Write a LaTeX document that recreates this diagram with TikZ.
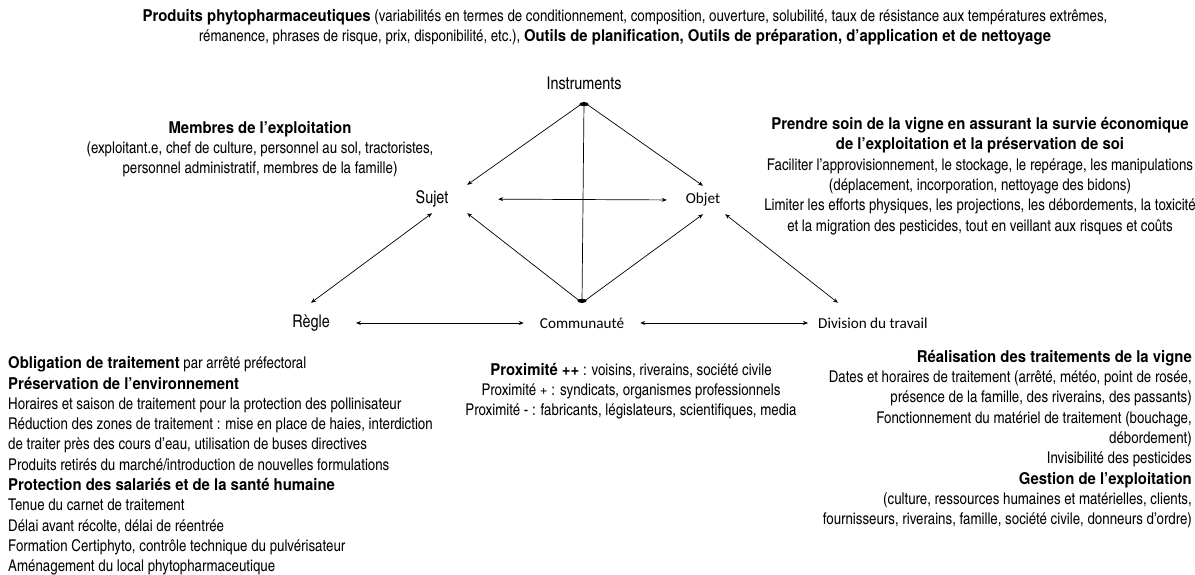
\documentclass[tikz,border=0pt]{standalone}
\usepackage{fontspec}
\setmainfont{texgyreheroscn}[Extension=.otf,UprightFont=*-regular,BoldFont=texgyreheros-bold,BoldFeatures={FakeStretch=0.92},ItalicFont=*-italic,BoldItalicFont=*-bolditalic]
\newfontfamily\calfont{Carlito}
\usetikzlibrary{arrows.meta}

\begin{document}
\begin{tikzpicture}
[x=1pt,y=-1pt,
every node/.style={inner sep=0pt},
lbl/.style={font=\fontsize{17.5}{19}\selectfont},
clbl/.style={font=\calfont\fontsize{15.2}{17}\selectfont},
txt/.style={font=\fontsize{16.2}{20.3}\selectfont},
tip/.style={-{Stealth[length=5pt,width=4pt]},line width=0.7pt},
dtip/.style={{Stealth[length=5pt,width=4pt]}-{Stealth[length=5pt,width=4pt]},line width=0.7pt}]
\useasboundingbox (0,0) rectangle (1195,575);
\node[txt,align=center] (prod) at (625,27) {\textbf{Produits phytopharmaceutiques} (variabilités en termes de conditionnement, composition, ouverture, solubilité, taux de résistance aux températures extrêmes,\\rémanence, phrases de risque, prix, disponibilité, etc.), \textbf{Outils de planification, Outils de préparation, d’application et de nettoyage}};
\node[lbl,minimum height=38pt] (instr) at (584,83) {Instruments};
\node[lbl,minimum width=70pt,minimum height=28pt] (sujet) at (432,199) {Sujet};
\node[clbl,minimum width=44pt,minimum height=28pt] (objet) at (703,200) {Objet};
\node[lbl,minimum height=40pt,inner xsep=26pt] (regle) at (311,323) {Règle};
\node[clbl,minimum height=40pt,inner xsep=16pt] (comm) at (582,323) {Communauté};
\node[clbl,minimum height=40pt,inner xsep=10pt,anchor=west] (divt) at (808,323) {Division du travail};
\node[txt,align=center] (membres) at (260,149) {\textbf{Membres de l’exploitation}\\(exploitant.e, chef de culture, personnel au sol, tractoristes,\\personnel administratif, membres de la famille)};
\node[txt,align=center] (soin) at (980,176) {\textbf{Prendre soin de la vigne en assurant la survie économique}\\\textbf{de l’exploitation et la préservation de soi}\\Faciliter l’approvisionnement, le stockage, le repérage, les manipulations\\(déplacement, incorporation, nettoyage des bidons)\\Limiter les efforts physiques, les projections, les débordements, la toxicité\\et la migration des pesticides, tout en veillant aux risques et coûts};
\node[txt,align=center] (proxi) at (631,391) {\textbf{Proximité ++} : voisins, riverains, société civile\\Proximité + : syndicats, organismes professionnels\\Proximité - : fabricants, législateurs, scientifiques, media};
\node[txt,align=left,anchor=west] (oblig) at (8,466) {\textbf{Obligation de traitement} par arrêté préfectoral\\\textbf{Préservation de l’environnement}\\Horaires et saison de traitement pour la protection des pollinisateur\\Réduction des zones de traitement : mise en place de haies, interdiction\\de traiter près des cours d’eau, utilisation de buses directives\\Produits retirés du marché/introduction de nouvelles formulations\\\textbf{Protection des salariés et de la santé humaine}\\Tenue du carnet de traitement\\Délai avant récolte, délai de réentrée\\Formation Certiphyto, contrôle technique du pulvérisateur\\Aménagement du local phytopharmaceutique};
\node[txt,align=right,anchor=east] (real) at (1192,439) {\textbf{Réalisation des traitements de la vigne}\\Dates et horaires de traitement (arrêté, météo, point de rosée,\\présence de la famille, des riverains, des passants)\\Fonctionnement du matériel de traitement (bouchage,\\débordement)\\Invisibilité des pesticides\\\textbf{Gestion de l’exploitation}\\(culture, ressources humaines et matérielles, clients,\\fournisseurs, riverains, famille, société civile, donneurs d’ordre)};
\draw[line width=0.7pt,{Ellipse[length=4pt,width=9pt]}-{Ellipse[length=4pt,width=9pt]}] (instr.south) -- (comm.north);
\foreach \from/\to in {instr.south/sujet.north east,instr.south/objet.north,comm.north/sujet.south east,comm.north/objet.south}
\draw[tip] (\from) -- (\to);
\foreach \from/\to in {regle.east/comm.west,comm.east/divt.west,regle.north/sujet.south,objet.south east/divt.150}
\draw[dtip] (\from) -- (\to);
\draw[dtip,shorten <=31pt,shorten >=14pt] (sujet.east) -- (objet.west);
\end{tikzpicture}
\end{document}
